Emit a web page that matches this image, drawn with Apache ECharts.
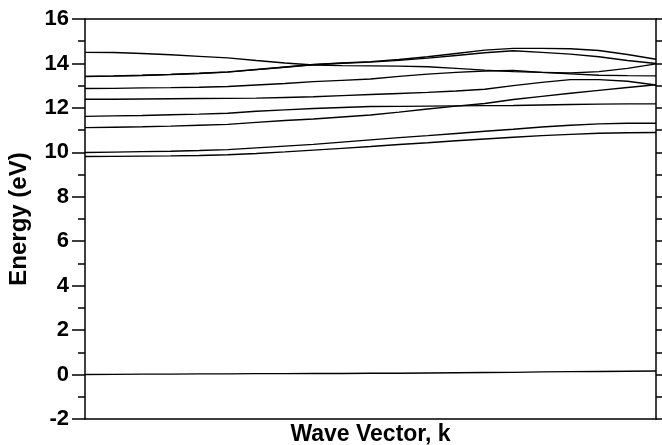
<!DOCTYPE html>
<html>
<head>
<meta charset="utf-8">
<script src="https://cdn.jsdelivr.net/npm/echarts@6/dist/echarts.min.js"></script>
<style>
  html, body { margin: 0; padding: 0; background: #fff; }
  #chart { width: 662px; height: 445px; }
</style>
</head>
<body>
<div id="chart"></div>
<script>
// wave vector positions (fraction of the path)
var kVals = [0, 0.05, 0.1, 0.15, 0.2, 0.25, 0.3, 0.35, 0.4, 0.45, 0.5,
             0.55, 0.6, 0.65, 0.7, 0.75, 0.8, 0.85, 0.9, 0.95, 1];

// band energies in eV
var band0 = [0, 0.01, 0.02, 0.02, 0.03, 0.03, 0.04, 0.04, 0.05, 0.05, 0.06,
             0.06, 0.07, 0.08, 0.09, 0.1, 0.12, 0.13, 0.14, 0.15, 0.16];
var band1 = [9.81, 9.82, 9.83, 9.84, 9.86, 9.89, 9.95, 10.02, 10.1, 10.18, 10.26,
             10.35, 10.43, 10.52, 10.6, 10.68, 10.75, 10.81, 10.86, 10.88, 10.89];
var band2 = [9.99, 10.01, 10.03, 10.05, 10.08, 10.12, 10.2, 10.28, 10.36, 10.46, 10.56,
             10.66, 10.75, 10.85, 10.95, 11.04, 11.14, 11.22, 11.28, 11.31, 11.31];
var band3 = [11.11, 11.13, 11.15, 11.18, 11.22, 11.26, 11.35, 11.43, 11.5, 11.59, 11.68,
             11.81, 11.95, 12.08, 12.2, 12.38, 12.52, 12.66, 12.79, 12.92, 13.04];
var band4 = [11.62, 11.64, 11.66, 11.69, 11.72, 11.76, 11.85, 11.91, 11.97, 12.02, 12.06,
             12.07, 12.08, 12.09, 12.1, 12.11, 12.13, 12.15, 12.17, 12.18, 12.18];
var band5 = [12.39, 12.39, 12.4, 12.41, 12.42, 12.43, 12.44, 12.47, 12.5, 12.55, 12.6,
             12.65, 12.7, 12.76, 12.84, 13.0, 13.15, 13.27, 13.27, 13.2, 13.03];
var band6 = [12.87, 12.88, 12.9, 12.91, 12.93, 12.96, 13.03, 13.1, 13.18, 13.24, 13.3,
             13.42, 13.52, 13.6, 13.66, 13.68, 13.6, 13.53, 13.47, 13.45, 13.44];
var band7 = [14.5, 14.49, 14.45, 14.39, 14.32, 14.25, 14.13, 14.02, 13.93, 13.9, 13.89,
             13.88, 13.85, 13.78, 13.7, 13.63, 13.6, 13.57, 13.63, 13.78, 13.98];
var band8 = [13.42, 13.44, 13.47, 13.51, 13.56, 13.62, 13.73, 13.84, 13.95, 14.02, 14.08,
             14.18, 14.3, 14.45, 14.6, 14.68, 14.68, 14.66, 14.58, 14.4, 14.19];
var band9 = [13.41, 13.43, 13.46, 13.5, 13.55, 13.61, 13.72, 13.83, 13.94, 14.01, 14.06,
             14.14, 14.24, 14.36, 14.48, 14.57, 14.5, 14.42, 14.3, 14.13, 14.0];

var bands = [band0, band1, band2, band3, band4, band5, band6, band7, band8, band9];

var yTicks = ['-2', '0', '2', '4', '6', '8', '10', '12', '14', '16'];

var fontFam = '"Liberation Sans", Arial, Helvetica, sans-serif';

var series = bands.map(function (b, i) {
    return {
        name: 'band' + i,
        type: 'line',
        xAxisIndex: 0,
        yAxisIndex: 0,
        showSymbol: false,
        symbol: 'none',
        animation: false,
        lineStyle: { color: '#000', width: 1.4 },
        data: kVals.map(function (k, j) { return [k, b[j]]; })
    };
});

var axisLine = { show: true, onZero: false, lineStyle: { color: '#000', width: 1.5 } };

var chart = echarts.init(document.getElementById('chart'));
chart.setOption({
    animation: false,
    grid: { left: 85, right: 6, top: 19, bottom: 26, outerBoundsMode: 'none', containLabel: false },
    xAxis: [{
        type: 'value',
        min: 0,
        max: 1,
        position: 'bottom',
        name: 'Wave Vector, k',
        nameLocation: 'middle',
        nameGap: 4,
        nameTextStyle: { color: '#000', fontSize: 23, fontWeight: 'bold', fontFamily: fontFam },
        axisLine: axisLine,
        axisTick: { show: false },
        axisLabel: { show: false },
        splitLine: { show: false }
    }, {
        type: 'value',
        min: 0,
        max: 1,
        position: 'top',
        axisLine: axisLine,
        axisTick: { show: false },
        axisLabel: { show: false },
        splitLine: { show: false }
    }],
    yAxis: [{
        type: 'value',
        min: -2,
        max: 16,
        interval: 2,
        position: 'left',
        name: 'Energy (eV)',
        nameLocation: 'middle',
        nameGap: 54,
        nameTextStyle: { color: '#000', fontSize: 24, fontWeight: 'bold', fontFamily: fontFam },
        axisLine: axisLine,
        axisTick: { show: true, inside: false, length: 13, lineStyle: { color: '#000', width: 1.5 } },
        minorTick: { show: true, splitNumber: 2, length: 7, lineStyle: { color: '#000', width: 1.5 } },
        axisLabel: {
            color: '#000', fontSize: 22, fontWeight: 'bold', fontFamily: fontFam, margin: 16,
            formatter: function (v) { return yTicks[Math.round((v + 2) / 2)]; }
        },
        splitLine: { show: false }
    }, {
        type: 'value',
        min: -2,
        max: 16,
        interval: 1,
        position: 'right',
        axisLine: axisLine,
        axisTick: { show: true, inside: false, length: 6, lineStyle: { color: '#000', width: 1.5 } },
        axisLabel: { show: false },
        splitLine: { show: false }
    }],
    series: series
});
</script>
</body>
</html>
